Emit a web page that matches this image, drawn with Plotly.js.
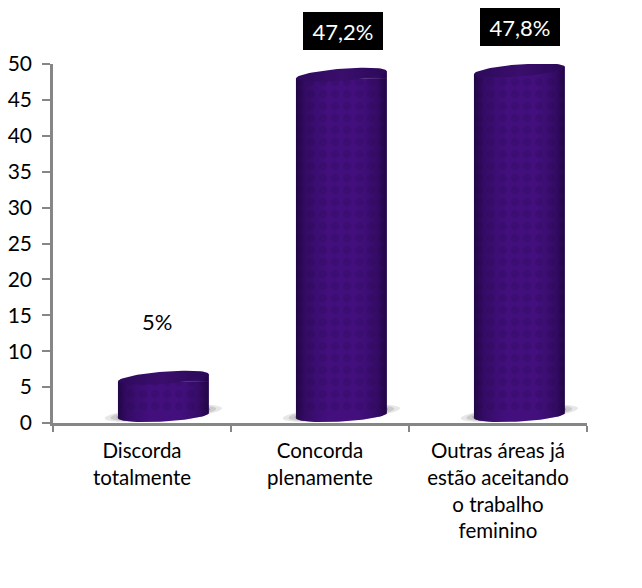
<!DOCTYPE html>
<html>
<head>
<meta charset="utf-8">
<script src="https://cdn.plot.ly/plotly-3.0.1.min.js"></script>
<style>html,body{margin:0;padding:0;background:#fff}#chart{width:642px;height:588px}</style>
</head>
<body>
<div id="chart"></div>
<script>
var categories = ['Discorda<br>totalmente', 'Concorda<br>plenamente', 'Outras áreas já<br>estão aceitando<br>o trabalho<br>feminino'];
var values = [5, 47.2, 47.8];
var valueLabels = ['5%', '47,2%', '47,8%'];
var labelHeights = [14.1, 54.6, 55.2];
var labelOffsets = [-6.5, 1.5, 1];
var yTicks = [0, 5, 10, 15, 20, 25, 30, 35, 40, 45, 50];

var yMax = 50, barShift = 0.12;
var halfWidth = 0.255, base = 1.4, baseLow = 0.7, liftLeft = 0.8, liftRight = 1.8, minor = 0.85;
var bodyColor = '#420f7c';

function ellipse(cx, left, right, from, to, n) {
  var xs = [], ys = [], cy = (left + right) / 2, tilt = (right - left) / 2;
  for (var i = 0; i <= n; i++) {
    var t = from + (to - from) * i / n;
    xs.push(cx + halfWidth * Math.cos(t));
    ys.push(cy + tilt * Math.cos(t) + minor * Math.sin(t));
  }
  return {x: xs, y: ys};
}
function fillTrace(xs, ys, extra) {
  var tr = {type: 'scatter', mode: 'lines', x: xs, y: ys, xaxis: 'x2', yaxis: 'y', fill: 'toself',
            line: {width: 0}, hoverinfo: 'skip', showlegend: false};
  for (var k in extra) tr[k] = extra[k];
  return tr;
}
function shadowPath(cx, scale) {
  var e = [], rx = 0.33 * scale, ry = 1.0 * scale;
  for (var i = 0; i <= 36; i++) {
    var t = 2 * Math.PI * i / 36;
    e.push((i ? 'L' : 'M') + (cx + rx * Math.cos(t)) + ',' + (1.35 + 0.7 * scale * Math.cos(t) + ry * Math.sin(t)));
  }
  return e.join(' ') + ' Z';
}

var xs = values.map(function (_, i) { return i + barShift; });
var tops = values.map(function (v) { return v + liftLeft; });

var traces = [
  {type: 'bar', x: categories, y: tops.map(function (t) { return t - base; }), base: base,
   width: 2 * halfWidth, offset: barShift - halfWidth,
   marker: {color: bodyColor, line: {width: 0},
            pattern: {shape: '.', size: 12, solidity: 0.4, fgcolor: '#3c0d72', bgcolor: bodyColor, fillmode: 'replace'}},
   hoverinfo: 'skip', showlegend: false}
];

var shading = {type: 'horizontal',
  colorscale: [[0, 'rgba(28,4,60,0.85)'], [0.1, 'rgba(34,6,70,0.45)'], [0.35, 'rgba(40,10,90,0)'],
               [0.7, 'rgba(40,10,90,0)'], [0.9, 'rgba(34,6,70,0.45)'], [1, 'rgba(28,4,60,0.85)']]};
var capGrad = {type: 'horizontal',
  colorscale: [[0, '#2d0a5c'], [0.5, '#3a0e6c'], [1, '#2b0958']]};

values.forEach(function (v, i) {
  var c = xs[i], L = v + liftLeft, R = v + liftRight;
  var low = ellipse(c, baseLow, base, Math.PI, 2 * Math.PI, 40);
  traces.push(fillTrace([c - halfWidth].concat(low.x, [c + halfWidth]), [base].concat(low.y, [base]), {fillcolor: bodyColor}));
  traces.push(fillTrace([c - halfWidth, c + halfWidth, c + halfWidth], [L, R, L], {fillcolor: bodyColor}));
  traces.push(fillTrace(low.x.concat([c + halfWidth, c - halfWidth]), low.y.concat([R, L]), {fillgradient: shading}));
  var cap = ellipse(c, L, R, 0, 2 * Math.PI, 72);
  traces.push(fillTrace(cap.x, cap.y, {fillgradient: capGrad}));
});

var shadows = [];
xs.forEach(function (c) {
  [[1.0, 'rgba(120,120,120,0.18)'], [0.9, 'rgba(120,120,120,0.25)'], [0.8, 'rgba(110,110,110,0.35)']].forEach(function (s) {
    shadows.push({type: 'path', xref: 'x2', yref: 'y', layer: 'below', path: shadowPath(c, s[0]),
                  fillcolor: s[1], line: {width: 0}});
  });
});

var annotations = values.map(function (v, i) {
  var boxed = i > 0;
  var a = {xref: 'x2', yref: 'paper', x: xs[i], y: labelHeights[i] / yMax, xshift: labelOffsets[i], text: valueLabels[i],
           xanchor: 'center', yanchor: 'middle',
           showarrow: false, font: {family: 'Lato, sans-serif', size: 22, color: boxed ? '#ffffff' : '#000000'},
           borderpad: 0, borderwidth: 0, align: 'center', valign: 'middle'};
  if (boxed) { a.bgcolor = '#000000'; a.width = 80; a.height = 38; }
  return a;
});

var layout = {
  width: 642, height: 588, paper_bgcolor: '#ffffff', plot_bgcolor: '#ffffff', showlegend: false,
  margin: {l: 53, r: 55, t: 64, b: 165}, barmode: 'overlay',
  font: {family: 'Lato, sans-serif', size: 20, color: '#000000'},
  xaxis: {type: 'category', categoryorder: 'array', categoryarray: categories, range: [-0.5, 2.5], tickson: 'boundaries',
          ticks: 'outside', ticklen: 6, tickwidth: 2, tickcolor: '#868686', linecolor: '#868686', linewidth: 2.5,
          showline: true, showgrid: false, zeroline: false, automargin: false, tickangle: 0, ticklabelstandoff: 8,
          tickfont: {family: 'Lato, sans-serif', size: 20.5, color: '#000000'}},
  xaxis2: {type: 'linear', overlaying: 'x', range: [-0.5, 2.5], visible: false, fixedrange: true},
  yaxis: {range: [0, yMax], tickvals: yTicks, ticktext: yTicks.map(String), ticks: 'outside', ticklen: 8, tickwidth: 2,
          tickcolor: '#868686', linecolor: '#868686', linewidth: 2.5, showline: true, showgrid: false, zeroline: false,
          automargin: false, ticklabelstandoff: 6, tickfont: {family: 'Lato, sans-serif', size: 21, color: '#000000'}},
  shapes: shadows,
  annotations: annotations
};

Plotly.newPlot('chart', traces, layout, {displayModeBar: false});
</script>
</body>
</html>
